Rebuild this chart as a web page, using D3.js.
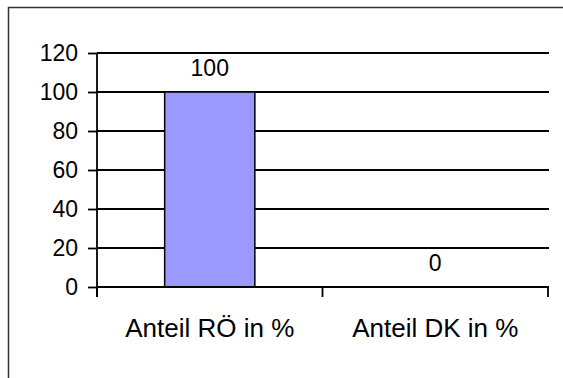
<!DOCTYPE html>
<html><head><meta charset="utf-8">
<script src="https://cdn.jsdelivr.net/npm/d3@7"></script>
<style>body{margin:0;background:#fff}svg{display:block}text{font-family:"Liberation Sans",Arial,sans-serif;fill:#000}</style>
</head><body>
<script>
const categories = ["Anteil RÖ in %", "Anteil DK in %"];
const values = [100, 0];
const yTicks = [0, 20, 40, 60, 80, 100, 120];

const W = 563, H = 378;
const svg = d3.select("body").append("svg").attr("width", W).attr("height", H);
const m = {left: 97, right: 548, top: 53, bottom: 287};

// outer frame
svg.append("path").attr("d", `M8.5,${H+5}V7.5H${W+5}`).attr("fill","none").attr("stroke","#333").attr("stroke-width",1.5);

const x = d3.scaleBand().domain(categories).range([m.left, m.right]).paddingInner(0.6).paddingOuter(0.3);
const xOuter = d3.scaleBand().domain(categories).range([m.left, m.right]);
const y = d3.scaleLinear().domain([0, 120]).range([m.bottom, m.top]);

// gridlines
svg.append("g").selectAll("line").data(yTicks.filter(d=>d>0)).join("line")
  .attr("x1", m.left).attr("x2", m.right+1).attr("y1", d=>y(d)).attr("y2", d=>y(d))
  .attr("stroke","#000").attr("stroke-width",1.8);

// bars
svg.append("g").selectAll("rect").data(values).join("rect")
  .attr("x",(d,i)=>x(categories[i])).attr("width",x.bandwidth())
  .attr("y",d=>y(d)).attr("height",d=>y(0)-y(d))
  .attr("fill","#9999FF").attr("stroke","#000").attr("stroke-width",1.5);

// y axis
const yAxis = svg.append("g").attr("transform",`translate(${m.left},0)`)
  .call(d3.axisLeft(y).tickValues(yTicks).tickSize(9).tickPadding(10));
yAxis.select(".domain").attr("stroke","#000").attr("stroke-width",1.8).attr("d",`M0,${m.top}V${m.bottom+10}`);
yAxis.selectAll(".tick line").attr("stroke","#000").attr("stroke-width",1.8);
yAxis.selectAll(".tick text").attr("font-size",23).attr("font-family",'"Liberation Sans",Arial,sans-serif').attr("fill","#000");

// x axis
const xAxis = svg.append("g").attr("transform",`translate(0,${m.bottom})`)
  .call(d3.axisBottom(xOuter).tickSize(0).tickPadding(32));
xAxis.select(".domain").attr("stroke","#000").attr("stroke-width",1.8).attr("d",`M${m.left},0H${m.right+1}`);
xAxis.selectAll(".tick text").attr("font-size",26).attr("font-family",'"Liberation Sans",Arial,sans-serif').attr("fill","#000");
// category separator ticks
const sepTicks = [m.left].concat(categories.map(c=>xOuter(c)+xOuter.bandwidth()));
svg.append("g").selectAll("line").data(sepTicks).join("line")
  .attr("x1",d=>d).attr("x2",d=>d).attr("y1",m.bottom).attr("y2",m.bottom+10)
  .attr("stroke","#000").attr("stroke-width",1.8);

// value labels
svg.append("g").selectAll("text").data(values).join("text")
  .attr("x",(d,i)=>x(categories[i])+x.bandwidth()/2)
  .attr("y",d=>y(d)-16).attr("text-anchor","middle").attr("font-size",23)
  .text(d=>d);
</script>
</body></html>
